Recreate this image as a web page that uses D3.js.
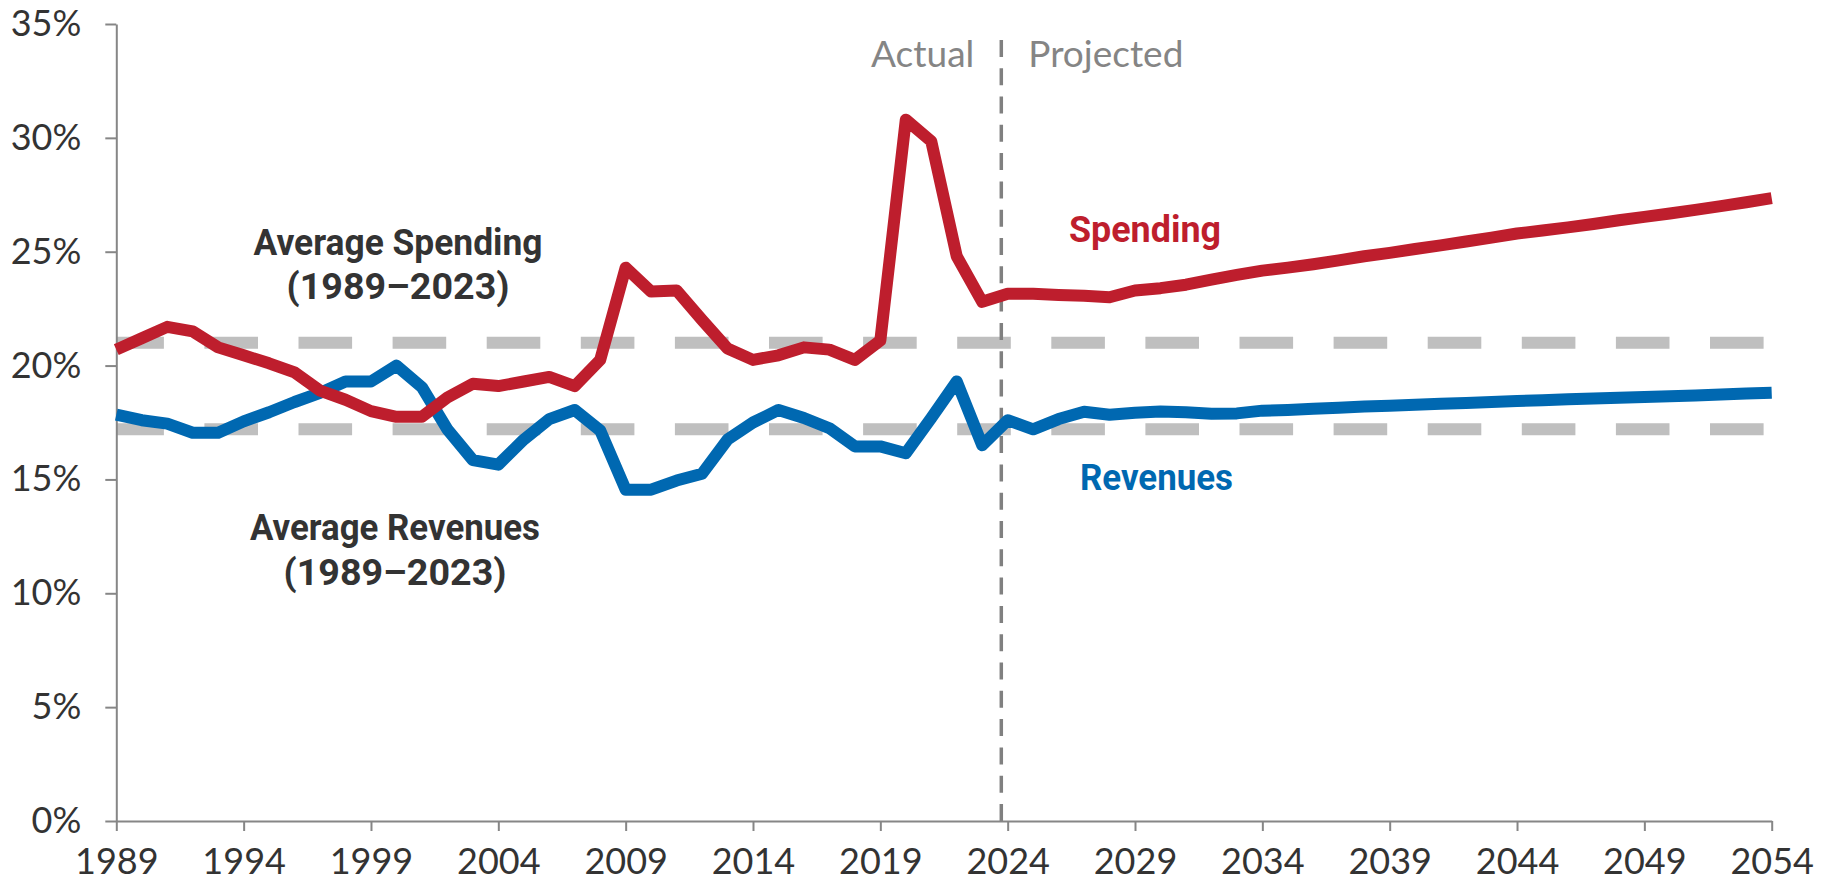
<!DOCTYPE html>
<html>
<head>
<meta charset="utf-8">
<script src="https://cdn.jsdelivr.net/npm/d3@7"></script>
<style>
  html, body { margin: 0; padding: 0; background: #fff; }
  svg { display: block; }
</style>
</head>
<body>
<svg id="chart" width="1836" height="882"></svg>
<script>
// ---- Data ----
const years = d3.range(1989, 2055);
const spending = [
  20.7, 21.2, 21.7, 21.5, 20.8, 20.45, 20.1, 19.7, 18.9, 18.5,
  18.0, 17.75, 17.75, 18.6, 19.2, 19.1, 19.3, 19.5, 19.1, 20.25,
  24.3, 23.25, 23.3, 22.0, 20.75, 20.25, 20.45, 20.8, 20.7, 20.25,
  21.1, 30.8, 29.85, 24.8, 22.8, 23.15, 23.15, 23.1, 23.07, 23.0,
  23.3, 23.4, 23.55, 23.77, 23.98, 24.17, 24.3, 24.45, 24.62, 24.8,
  24.95, 25.12, 25.28, 25.45, 25.62, 25.8, 25.93, 26.07, 26.22, 26.38,
  26.53, 26.68, 26.84, 27.0, 27.17, 27.35
];
const revenues = [
  17.85, 17.6, 17.45, 17.05, 17.05, 17.55, 17.95, 18.4, 18.8, 19.3,
  19.3, 20.0, 19.05, 17.2, 15.85, 15.65, 16.75, 17.65, 18.05, 17.15,
  14.55, 14.55, 14.95, 15.25, 16.75, 17.5, 18.05, 17.7, 17.25, 16.45,
  16.45, 16.15, 17.7, 19.3, 16.5, 17.6, 17.2, 17.65, 17.97, 17.84,
  17.93, 17.98, 17.95, 17.88, 17.9, 18.02, 18.05, 18.1, 18.15, 18.2,
  18.24, 18.28, 18.32, 18.36, 18.4, 18.44, 18.48, 18.52, 18.55, 18.59,
  18.62, 18.65, 18.69, 18.73, 18.77, 18.81
];
const averages = [21.0, 17.2];          // average spending, average revenues (1989–2023)
const yTicks = [0, 5, 10, 15, 20, 25, 30, 35];
const xTicks = d3.range(1989, 2055, 5);
const dividerYear = 2023.75;

// ---- Layout ----
const svg = d3.select("#chart");
const x = d3.scaleLinear().domain([1989, 2054]).range([116.3, 1771.7]);
const y = d3.scaleLinear().domain([0, 35]).range([821, 24]);

const RED = "#BE1E2D", BLUE = "#0068B1", AXIS = "#868686", TXT = "#333333";
const tickFont = "Lato, 'Open Sans', sans-serif";
const boldFont = "Roboto, 'Liberation Sans', sans-serif";

// average dashed lines
svg.append("g").selectAll("line").data(averages).join("line")
  .attr("x1", x(1989)).attr("x2", x(2054))
  .attr("y1", d => y(d)).attr("y2", d => y(d))
  .attr("stroke", "#BFBFBF").attr("stroke-width", 12)
  .attr("stroke-dasharray", "53.6 40.5").attr("stroke-dashoffset", 6);

// divider
svg.append("line")
  .attr("x1", x(dividerYear)).attr("x2", x(dividerYear))
  .attr("y1", y(0)).attr("y2", 33)
  .attr("stroke", "#808080").attr("stroke-width", 3.5)
  .attr("stroke-dasharray", "17 11.3");

// axes
const yAxis = svg.append("g").attr("transform", `translate(${x(1989)},0)`)
  .call(d3.axisLeft(y).tickValues(yTicks).tickFormat(d => d + "%").tickSizeInner(11).tickSizeOuter(0).tickPadding(24));
const xAxis = svg.append("g").attr("transform", `translate(0,${y(0)})`)
  .call(d3.axisBottom(x).tickValues(xTicks).tickFormat(d3.format("d")).tickSizeInner(10).tickSizeOuter(0).tickPadding(17));
[yAxis, xAxis].forEach(g => {
  g.select(".domain").attr("stroke", AXIS).attr("stroke-width", 2);
  g.selectAll(".tick line").attr("stroke", AXIS).attr("stroke-width", 2);
  g.selectAll(".tick text").attr("fill", TXT).style("font-family", tickFont).style("font-size", "36px");
});

// series lines
const line = d3.line().x((d, i) => x(years[i])).y(d => y(d));
svg.append("path").datum(revenues).attr("d", line)
  .attr("fill", "none").attr("stroke", BLUE).attr("stroke-width", 12).attr("stroke-linejoin", "round");
svg.append("path").datum(spending).attr("d", line)
  .attr("fill", "none").attr("stroke", RED).attr("stroke-width", 12).attr("stroke-linejoin", "round");

// Actual / Projected labels
svg.append("text").attr("x", x(dividerYear) - 27).attr("y", 67).attr("text-anchor", "end")
  .attr("fill", "#858585").style("font-family", tickFont).style("font-size", "37px").text("Actual");
svg.append("text").attr("x", x(dividerYear) + 27).attr("y", 67).attr("text-anchor", "start")
  .attr("fill", "#858585").style("font-family", tickFont).style("font-size", "37px").text("Projected");

// annotations (condensed bold look via textLength)
function bold(xp, yp, anchor, color, txt, len) {
  svg.append("text").attr("x", xp).attr("y", yp).attr("text-anchor", anchor)
    .attr("fill", color).style("font-family", boldFont).style("font-weight", "bold")
    .style("font-size", "37px")
    .attr("textLength", len).attr("lengthAdjust", "spacingAndGlyphs").text(txt);
}
bold(398, 255, "middle", TXT, "Average Spending", 289);
bold(398, 299, "middle", TXT, "(1989–2023)", 223);
bold(395, 540, "middle", TXT, "Average Revenues", 290);
bold(395, 585, "middle", TXT, "(1989–2023)", 223);
bold(1069, 242, "start", RED, "Spending", 152);
bold(1080, 490, "start", BLUE, "Revenues", 153);
</script>
</body>
</html>
